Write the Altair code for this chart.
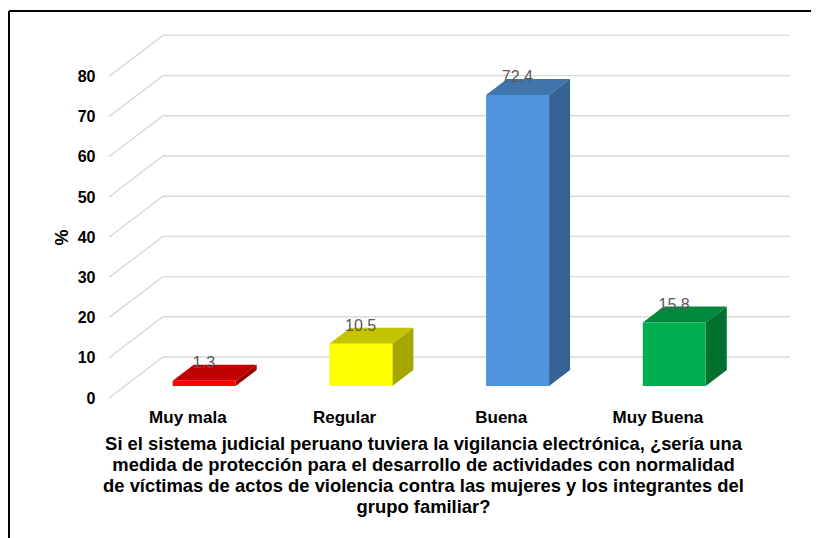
import altair as alt
import pandas as pd

categories = ["Muy mala", "Regular", "Buena", "Muy Buena"]
values = [1.3, 10.5, 72.4, 15.8]
labels = ["1.3", "10.5", "72.4", "15.8"]
front_colors = ["#FF0000", "#FFFF00", "#4F94DC", "#00B050"]
top_colors = ["#C00000", "#C4C400", "#3F74AC", "#008A40"]
side_colors = ["#9E0000", "#A6A600", "#366392", "#00702F"]
tick_values = [0, 10, 20, 30, 40, 50, 60, 70, 80]
title_lines = [
    "Si el sistema judicial peruano tuviera la vigilancia electrónica, ¿sería una",
    "medida de protección para el desarrollo de actividades con normalidad",
    "de víctimas de actos de violencia contra las mujeres y los integrantes del",
    "grupo familiar?",
]

FONT = "Liberation Sans"
# scale geometry: 1 x unit is one category, y unit is percent
X_MAX = 4.346
Y_MAX = 90.3
WALL_DX, WALL_DY = 0.3446, 10.2   # oblique depth of the walls
BAR_X, BAR_W = 0.4065, 0.402      # bar front face inside a category
BAR_DX, BAR_DY = 0.134, 3.98      # oblique depth of a bar
BAR_BASE = 2.985                  # front-face baseline above the front floor edge

x_scale = alt.Scale(domain=[0, X_MAX], nice=False, zero=False)
y_scale = alt.Scale(domain=[0, Y_MAX], nice=False, zero=False)
X = alt.X("x:Q", scale=x_scale)
Y = alt.Y("y:Q", scale=y_scale)

fronts, tops, sides, texts = [], [], [], []
for i, v in enumerate(values):
    l, r = i + BAR_X, i + BAR_X + BAR_W
    t = BAR_BASE + v
    fronts.append(dict(x=l, x2=r, y=BAR_BASE, y2=t, c=front_colors[i]))
    tops += [dict(y=t, x=l, x2=r, c=top_colors[i]),
             dict(y=t + BAR_DY, x=l + BAR_DX, x2=r + BAR_DX, c=top_colors[i])]
    sides += [dict(x=r, y=BAR_BASE, y2=t, c=side_colors[i]),
              dict(x=r + BAR_DX, y=BAR_BASE + BAR_DY, y2=t + BAR_DY, c=side_colors[i])]
    texts.append(dict(x=i + 0.606, y=t + 4.35, t=labels[i]))

grid_rows = []
for v in tick_values:
    grid_rows += [dict(x=0, y=v, k=v),
                  dict(x=WALL_DX, y=v + WALL_DY, k=v),
                  dict(x=X_MAX, y=v + WALL_DY, k=v)]

grid = alt.Chart(pd.DataFrame(grid_rows)).mark_line(color="#D9D9D9", strokeWidth=1.4).encode(
    x=alt.X("x:Q", scale=x_scale, axis=alt.Axis(
        values=[0.5, 1.5, 2.5, 3.5],
        labelExpr="['Muy mala','Regular','Buena','Muy Buena'][datum.value-0.5]",
        labelFont=FONT, labelFontSize=17, labelFontWeight="bold", labelColor="#000000",
        labelPadding=11, domain=False, ticks=False, grid=False,
        title=title_lines, titleFont=FONT, titleFontSize=18.4, titleFontWeight="bold",
        titleColor="#000000", titleLineHeight=21.3, titleX=314, titleY=36,
        titleAlign="center", titleBaseline="top",
    )),
    y=alt.Y("y:Q", scale=y_scale, axis=alt.Axis(
        values=tick_values, labelFont=FONT, labelFontSize=16, labelFontWeight="bold",
        labelColor="#000000", labelPadding=14, domain=False, ticks=False, grid=False,
        title="%", titleFont=FONT, titleFontSize=18, titleFontWeight="bold",
        titleColor="#000000", titleX=-38, titleY=202, titleAlign="center",
    )),
    detail="k:N",
)

color = alt.Color("c:N", scale=None)
front = alt.Chart(pd.DataFrame(fronts)).mark_rect().encode(x=X, x2="x2:Q", y=Y, y2="y2:Q", color=color)
top = alt.Chart(pd.DataFrame(tops)).mark_area(orient="horizontal").encode(x=X, x2="x2:Q", y=Y, color=color)
side = alt.Chart(pd.DataFrame(sides)).mark_area(orient="vertical").encode(x=X, y=Y, y2="y2:Q", color=color)
text = alt.Chart(pd.DataFrame(texts)).mark_text(
    font=FONT, fontSize=16, color="#595959", baseline="middle"
).encode(x=X, y=Y, text="t:N")

frame_rows = pd.DataFrame({"k": ["frame"]})
frame_left = alt.Chart(frame_rows).mark_rule(color="#000000", strokeWidth=2).encode(
    x=alt.value(-100), y=alt.value(-24), y2=alt.value(510))
frame_top = alt.Chart(frame_rows).mark_rule(color="#000000", strokeWidth=2).encode(
    x=alt.value(-100), x2=alt.value(720), y=alt.value(-24))

chart = alt.layer(frame_left, frame_top, grid, top, side, front, text).properties(
    width=681, height=363,
    autosize=alt.AutoSizeParams(type="none"),
    padding={"left": 101, "top": 27, "right": 21, "bottom": 140},
    background="#FFFFFF",
).configure_view(stroke=None)

chart.save("out.html", embed_options={"renderer": "svg", "actions": False})
